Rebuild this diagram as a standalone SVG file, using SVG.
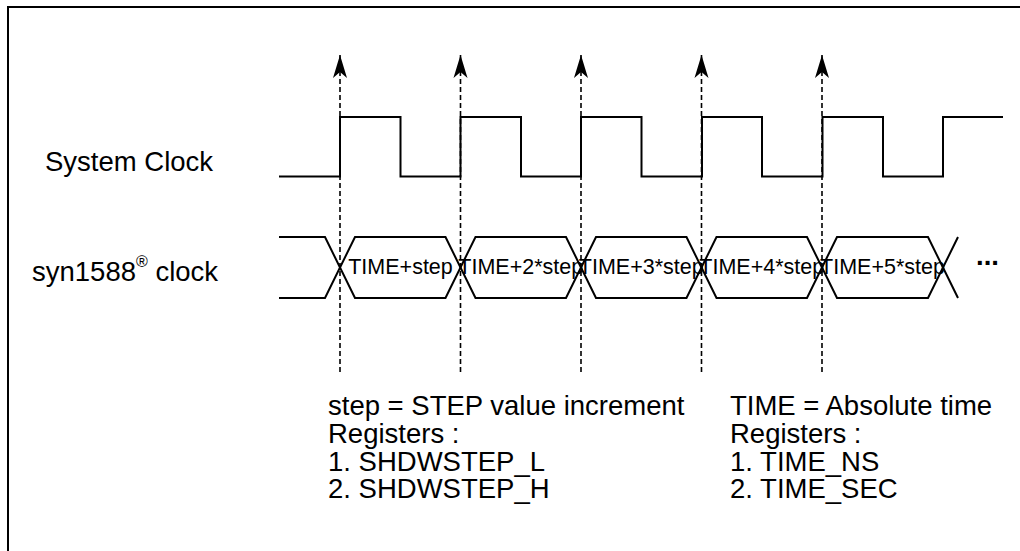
<svg xmlns="http://www.w3.org/2000/svg" width="1020" height="551" viewBox="0 0 1020 551">
<style>
.t{font-family:"Liberation Sans",Arial,sans-serif;fill:#000}
.lbl{font-size:27.5px}
.bx{font-size:21.5px;text-anchor:middle}
.sig{fill:none;stroke:#000;stroke-width:2;stroke-linejoin:miter}
.dash{fill:none;stroke:#000;stroke-width:1.6;stroke-dasharray:5 3}
</style>
<defs>
<marker id="ah" markerUnits="userSpaceOnUse" markerWidth="30" markerHeight="30" refX="0" refY="0" orient="auto" overflow="visible">
<path d="M0,0 L-23,-7 L-17,0 L-23,7 Z" fill="#000"/>
</marker>
</defs>
<rect x="8" y="7" width="1100" height="700" fill="none" stroke="#000" stroke-width="2"/>
<g id="system-clock">
<text class="t lbl" x="45" y="171">System Clock</text>
<path class="sig" d="M279,176.5 H340 V117 H400.5 V176.5 H460.5 V117 H521 V176.5 H581 V117 H641.5 V176.5 H702 V117 H762 V176.5 H822.5 V117 H883 V176.5 H943 V117 H1003"/>
</g>
<g id="syn1588-clock">
<text class="t lbl" x="32" y="281">syn1588<tspan font-size="16" dy="-14">®</tspan><tspan dy="14"> clock</tspan></text>
<path class="sig" d="M279,237 H325 L340,267.5 L325,298 H279"/>
<path class="sig" d="M340,267.5 L355,237 H445.5 L460.5,267.5 L445.5,298 H355 Z"/>
<path class="sig" d="M460.5,267.5 L475.5,237 H566 L581,267.5 L566,298 H475.5 Z"/>
<path class="sig" d="M581,267.5 L596,237 H686.5 L701.5,267.5 L686.5,298 H596 Z"/>
<path class="sig" d="M701.5,267.5 L716.5,237 H807 L822,267.5 L807,298 H716.5 Z"/>
<path class="sig" d="M822,267.5 L837,237 H928 L943,267.5 L928,298 H837 Z"/>
<path class="sig" d="M943,267.5 L958,237 M943,267.5 L958,298"/>
<text class="t bx" x="400.5" y="274">TIME+step</text>
<text class="t bx" x="520.75" y="274">TIME+2*step</text>
<text class="t bx" x="641.25" y="274">TIME+3*step</text>
<text class="t bx" x="761.75" y="274">TIME+4*step</text>
<text class="t bx" x="882.5" y="274">TIME+5*step</text>
<text class="t lbl" x="976" y="265" font-weight="bold">...</text>
</g>
<g id="connectors">
<line class="dash" x1="340" y1="372" x2="340" y2="55" marker-end="url(#ah)"/>
<line class="dash" x1="460.5" y1="372" x2="460.5" y2="55" marker-end="url(#ah)"/>
<line class="dash" x1="581" y1="372" x2="581" y2="55" marker-end="url(#ah)"/>
<line class="dash" x1="701.5" y1="372" x2="701.5" y2="55" marker-end="url(#ah)"/>
<line class="dash" x1="822" y1="372" x2="822" y2="55" marker-end="url(#ah)"/>
</g>
<g id="step-note">
<text class="t lbl" x="328" y="415">step = STEP value increment</text>
<text class="t lbl" x="328" y="443">Registers :</text>
<text class="t lbl" x="328" y="470.5">1. SHDWSTEP_L</text>
<text class="t lbl" x="328" y="498">2. SHDWSTEP_H</text>
</g>
<g id="time-note">
<text class="t lbl" x="730" y="415">TIME = Absolute time</text>
<text class="t lbl" x="730" y="443">Registers :</text>
<text class="t lbl" x="730" y="470.5">1. TIME_NS</text>
<text class="t lbl" x="730" y="498">2. TIME_SEC</text>
</g>
</svg>
